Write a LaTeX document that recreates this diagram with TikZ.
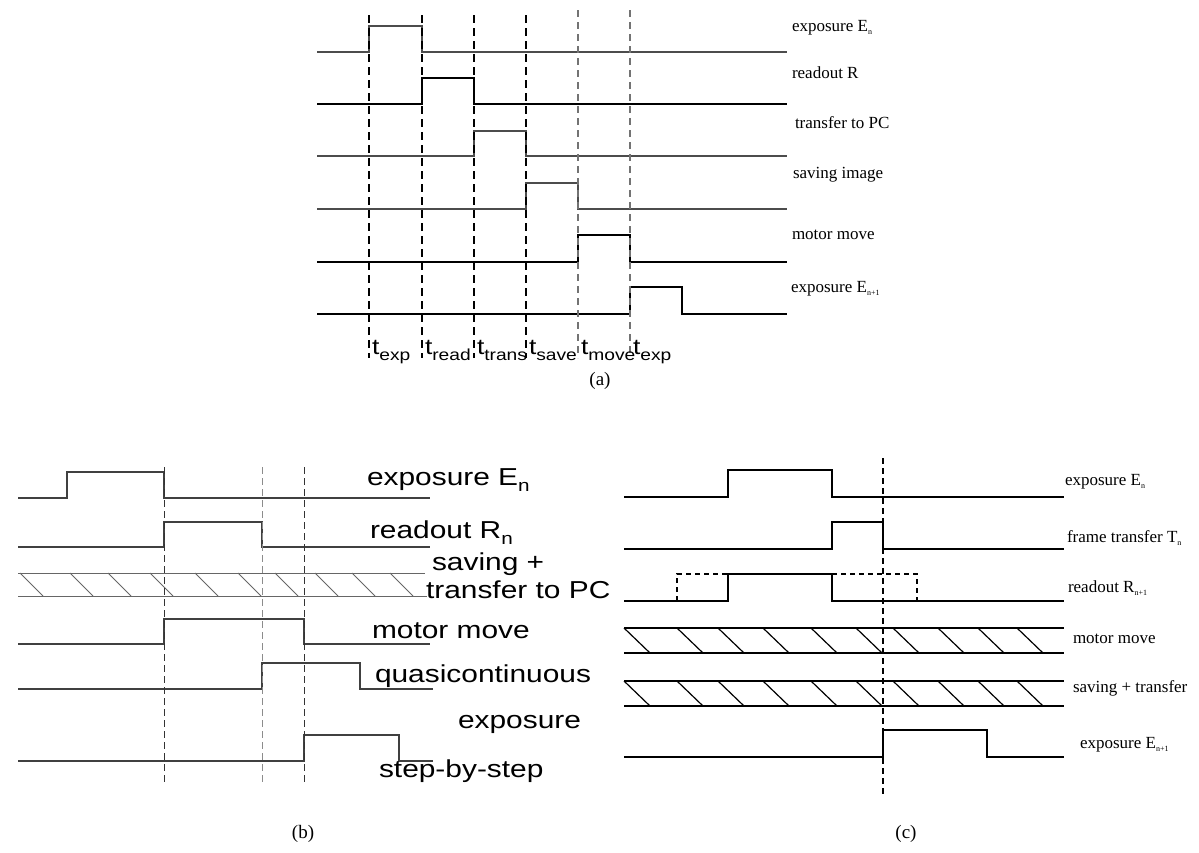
\documentclass[tikz,border=0pt]{standalone}
\usepackage{fontspec}
\setmainfont{Liberation Serif}
\newfontfamily\hv{Liberation Sans}
\usepackage{graphicx}
\newcommand\SerSub[1]{\raisebox{-3pt}{\fontsize{8}{9}\selectfont #1}}
\newcommand\SanSub[1]{\raisebox{-6pt}{\fontsize{17}{18}\selectfont #1}}
\newcommand\BLab[1]{\scalebox{1.22}[1]{\hv\fontsize{24.5}{26}\selectfont #1}}
\newcommand\TLab[1]{\scalebox{1.2}[1]{\hv\fontsize{22}{24}\selectfont t\raisebox{-6pt}{\fontsize{16}{17}\selectfont #1}}}
\newcommand\SLab{\fontsize{17}{19}\selectfont}
\begin{document}
\begin{tikzpicture}[x=1pt,y=-1pt,
  lab/.style={anchor=base west, inner sep=0pt, outer sep=0pt, font=\SLab},
  blab/.style={anchor=base west, inner sep=0pt, outer sep=0pt},
  captxt/.style={anchor=base, inner sep=0pt, font=\fontsize{19}{21}\selectfont},
  sigA/.style={line width=1.4pt, black!70},
  sigB/.style={line width=1.4pt, black},
  sigC/.style={line width=2.2pt, black},
  dashA/.style={line width=1.9pt, black, dash pattern=on 8pt off 5pt},
  dashG/.style={line width=1.2pt, black!55, dash pattern=on 7pt off 5pt},
  sigb/.style={line width=1.3pt, black!75},
  hatchb/.style={line width=1pt, black!60},
  dashb/.style={line width=1pt, black!80, dash pattern=on 7pt off 4pt},
  dashbg/.style={line width=1pt, black!45, dash pattern=on 7pt off 4pt},
  sigc/.style={line width=1.5pt, black},
  hatchc/.style={line width=1.2pt, black},
  dashc/.style={line width=1.1pt, black, dash pattern=on 6pt off 4pt},
  dashr/.style={line width=1.4pt, black, dash pattern=on 5pt off 4pt}]
\useasboundingbox (0,0) rectangle (1199,852);

% ---------------- panel (a) ----------------
\draw[sigA] (317,52) -- (369,52) -- (369,26) -- (422,26) -- (422,52) -- (787,52);
\draw[sigB] (317,104) -- (422,104) -- (422,78) -- (474,78) -- (474,104) -- (787,104);
\draw[sigA] (317,156) -- (474,156) -- (474,131) -- (526,131) -- (526,156) -- (787,156);
\draw[sigA] (317,209) -- (526,209) -- (526,183) -- (578,183) -- (578,209) -- (787,209);
\draw[sigC] (317,262) -- (578,262) -- (578,235) -- (630,235) -- (630,262) -- (787,262);
\draw[sigC] (317,314) -- (630,314) -- (630,287) -- (682,287) -- (682,314) -- (787,314);
\foreach \x in {369,422,474,526} \draw[dashA] (\x,15) -- (\x,358);
\foreach \x in {578,630} \draw[dashG] (\x,10) -- (\x,358);

\node[lab] (a1) at (792,31) {exposure E\SerSub{n}};
\node[lab] (a2) at (792,78) {readout R};
\node[lab] (a3) at (795,128) {transfer to PC};
\node[lab] (a4) at (793,178) {saving image};
\node[lab] (a5) at (792,239) {motor move};
\node[lab] (a6) at (791,292) {exposure E\SerSub{n+1}};

\node[blab] (t1) at (372,354) {\TLab{exp}};
\node[blab] (t2) at (425,354) {\TLab{read}};
\node[blab] (t3) at (477,354) {\TLab{trans}};
\node[blab] (t4) at (529,354) {\TLab{save}};
\node[blab] (t5) at (581,354) {\TLab{move}};
\node[blab] (t6) at (633,354) {\TLab{exp}};
\node[captxt] (capa) at (600,385) {(a)};

% ---------------- panel (b) ----------------
\draw[sigb] (18,498) -- (67,498) -- (67,472) -- (164,472) -- (164,498) -- (430,498);
\draw[sigb] (18,547) -- (164,547) -- (164,522) -- (262,522) -- (262,547) -- (430,547);
\draw[hatchb] (18,573) -- (425,573);
\draw[hatchb] (18,596) -- (427,596);
\foreach \s in {20,70,108,150,195,238,275,315,352,390} \draw[hatchb] (\s,573) -- (\s+23,596);
\draw[sigb] (18,644) -- (164,644) -- (164,619) -- (304,619) -- (304,644) -- (430,644);
\draw[sigb] (18,689) -- (262,689) -- (262,663) -- (360,663) -- (360,689) -- (433,689);
\draw[sigb] (18,761) -- (304,761) -- (304,735) -- (399,735) -- (399,761) -- (433,761);
\draw[dashb] (164,467) -- (164,783);
\draw[dashbg] (262,467) -- (262,783);
\draw[dashb] (304,467) -- (304,783);

\node[blab] (b1) at (367,485) {\BLab{exposure E\SanSub{n}}};
\node[blab] (b2) at (370,538) {\BLab{readout R\SanSub{n}}};
\node[blab] (b3) at (432,570) {\BLab{saving +}};
\node[blab] (b4) at (426,598) {\BLab{transfer to PC}};
\node[blab] (b5) at (372,638) {\BLab{motor move}};
\node[blab] (b6) at (375,682) {\BLab{quasicontinuous}};
\node[blab] (b7) at (458,728) {\BLab{exposure}};
\node[blab] (b8) at (379,777) {\BLab{step-by-step}};
\node[captxt] (capb) at (303,838) {(b)};

% ---------------- panel (c) ----------------
\draw[sigc] (624,497) -- (728,497) -- (728,470) -- (832,470) -- (832,497) -- (1064,497);
\draw[sigc] (624,549) -- (832,549) -- (832,522) -- (883,522) -- (883,549) -- (1064,549);
\draw[sigc] (624,601) -- (728,601) -- (728,574) -- (832,574) -- (832,601) -- (1064,601);
\draw[dashr] (677,601) -- (677,574) -- (728,574);
\draw[dashr] (832,574) -- (917,574) -- (917,601);
\foreach \yt in {628,681} {
  \draw[hatchc] (624,\yt) -- (1064,\yt);
  \draw[hatchc] (624,\yt+25) -- (1064,\yt+25);
  \foreach \s in {624,677,718,763,811,856,893,938,978,1017} \draw[hatchc] (\s,\yt) -- (\s+26,\yt+25);
}
\draw[sigc] (624,757) -- (883,757) -- (883,730) -- (987,730) -- (987,757) -- (1064,757);
\draw[dashc] (883,458) -- (883,795);

\node[lab] (c1) at (1065,485) {exposure E\SerSub{n}};
\node[lab] (c2) at (1067,542) {frame transfer T\SerSub{n}};
\node[lab] (c3) at (1068,592) {readout R\SerSub{n+1}};
\node[lab] (c4) at (1073,643) {motor move};
\node[lab] (c5) at (1073,692) {saving + transfer};
\node[lab] (c6) at (1080,748) {exposure E\SerSub{n+1}};
\node[captxt] (capc) at (906,838) {(c)};
\end{tikzpicture}
\end{document}
